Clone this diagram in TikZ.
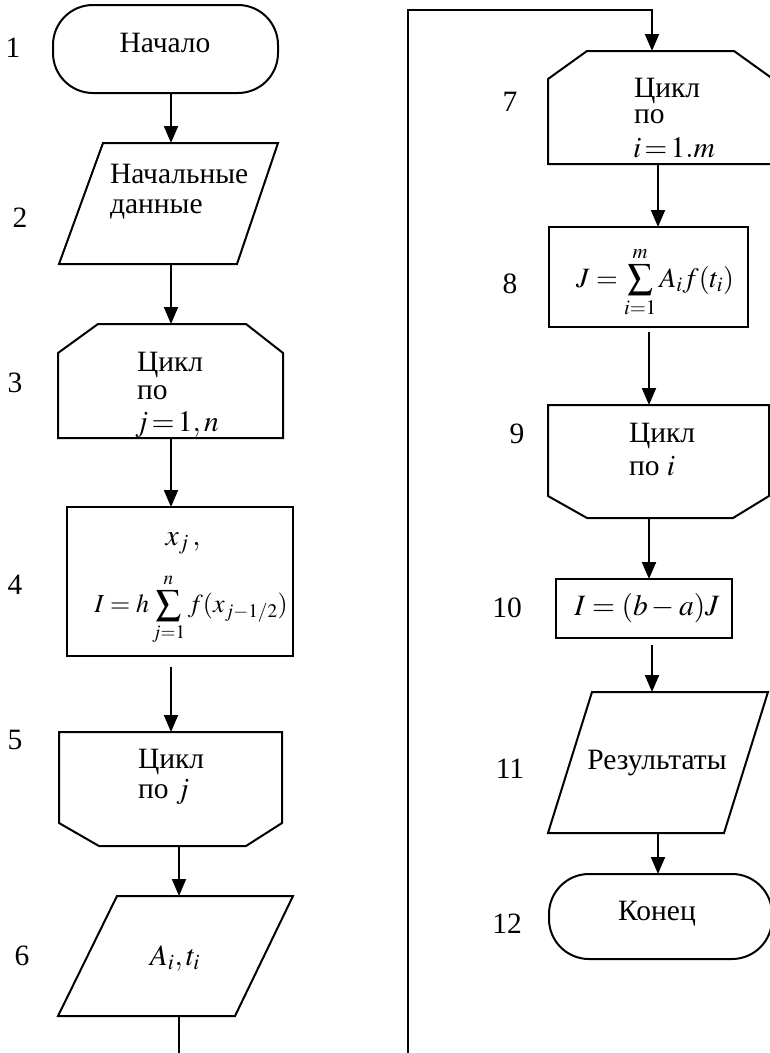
\documentclass[tikz,border=0pt]{standalone}
\usepackage{mathptmx}
\usepackage{fontspec}
\setmainfont{Liberation Serif}
\usetikzlibrary{arrows.meta}
\newcommand\bigfs{\fontsize{29.5}{32}\selectfont}
\newcommand\midsum[1]{\mathop{\vcenter{\hbox{\fontsize{#1}{#1}\selectfont$\displaystyle\sum$}}}\limits}
\begin{document}
\begin{tikzpicture}[x=1pt,y=-1pt,
  every node/.style={font=\bigfs, inner sep=0pt, outer sep=0pt},
  ol/.style={line width=2pt, line join=miter},
  boxd/.style={draw, line width=2pt},
  arr/.style={line width=2pt, -{Triangle[length=17pt,width=14pt]}},
  lbl/.style={anchor=base},
  txt/.style={anchor=base west},
  ctxt/.style={anchor=base}]
\useasboundingbox (0,0) rectangle (770,1053);
\clip (0,0) rectangle (770,1053);
\fill[white] (0,0) rectangle (770,1053);

% ---------- left column shapes ----------
\node[minimum width=225pt, minimum height=88pt] (n1) at (165.5,49) {};
\draw[ol, rounded corners=40pt] (n1.south west) rectangle (n1.north east);

\node[minimum width=219pt, minimum height=121pt] (n2) at (168.5,203.5) {};
\draw[ol] ([xshift=44pt]n2.north west) -- (n2.north east) -- ([xshift=-41pt]n2.south east) -- (n2.south west) -- cycle;

\node[minimum width=225pt, minimum height=114pt] (n3) at (170.5,381) {};
\draw[ol] ([xshift=40pt]n3.north west) -- ([xshift=-37pt]n3.north east) -- ([yshift=-29pt]n3.north east) -- (n3.south east) -- (n3.south west) -- ([yshift=-29pt]n3.north west) -- cycle;

\node[boxd, minimum width=226pt, minimum height=149pt] (n4) at (180,581.5) {};

\node[minimum width=223pt, minimum height=114pt] (n5) at (170.5,789) {};
\draw[ol] (n5.north west) -- (n5.north east) -- ([yshift=23pt]n5.south east) -- ([xshift=-36pt]n5.south east) -- ([xshift=40pt]n5.south west) -- ([yshift=23pt]n5.south west) -- cycle;

\node[minimum width=235pt, minimum height=120pt] (n6) at (175.5,956) {};
\draw[ol] ([xshift=59pt]n6.north west) -- (n6.north east) -- ([xshift=-58pt]n6.south east) -- (n6.south west) -- cycle;

% ---------- right column shapes ----------
\node[minimum width=225pt, minimum height=113pt] (n7) at (660.5,107.5) {};
\draw[ol] ([xshift=39pt]n7.north west) -- ([xshift=-39pt]n7.north east) -- ([yshift=-28pt]n7.north east) -- (n7.south east) -- (n7.south west) -- ([yshift=-28pt]n7.north west) -- cycle;

\node[boxd, minimum width=199pt, minimum height=100pt] (n8) at (648.5,277) {};

\node[minimum width=221pt, minimum height=113pt] (n9) at (658.5,461.5) {};
\draw[ol] (n9.north west) -- (n9.north east) -- ([yshift=22pt]n9.south east) -- ([xshift=-36pt]n9.south east) -- ([xshift=39pt]n9.south west) -- ([yshift=22pt]n9.south west) -- cycle;

\node[boxd, minimum width=176pt, minimum height=59pt] (n10) at (644,608.5) {};

\node[minimum width=220pt, minimum height=141pt] (n11) at (658,762.5) {};
\draw[ol] ([xshift=44pt]n11.north west) -- (n11.north east) -- ([xshift=-44pt]n11.south east) -- (n11.south west) -- cycle;

\node[minimum width=223pt, minimum height=85pt] (n12) at (660.5,916.5) {};
\draw[ol, rounded corners=40pt] (n12.south west) rectangle (n12.north east);

% ---------- texts ----------
\node[ctxt] (t1) at (165,52) {Начало};
\node[txt] (t2a) at (110,183) {Начальные};
\node[txt] (t2b) at (110,213) {данные};
\node[txt] (t3a) at (137,371) {Цикл};
\node[txt] (t3b) at (137,399) {по};
\node[txt] (t3c) at (135,431) {$j\mkern2mu{=}\mkern2mu1,n$};
\node[ctxt] (t4a) at (183,545) {$x_{j}\,,$};
\node[ctxt, font=\fontsize{26}{28}\selectfont] (t4b) at (191,612) {$I = h\midsum{25}_{j=1}^{n} f(x_{j-1/2})$};
\node[txt] (t5a) at (138,768) {Цикл};
\node[txt] (t5b) at (138,798) {по $j$};
\node[ctxt] (t6) at (175,965) {$A_i,t_i$};
\node[txt] (t7a) at (634,97) {Цикл};
\node[txt] (t7b) at (634,123) {по};
\node[txt] (t7c) at (633,157) {$i\mkern2mu{=}\mkern2mu1.m$};
\node[ctxt, font=\fontsize{28}{30}\selectfont] (t8) at (655,287) {$J = \midsum{25}_{i=1}^{m} A_i f(t_i)$};
\node[txt] (t9a) at (629,442) {Цикл};
\node[txt] (t9b) at (629,475) {по $i$};
\node[ctxt] (t10) at (647,615) {$I=(b-a)J$};
\node[ctxt] (t11) at (657,769) {Результаты};
\node[ctxt] (t12) at (657,920) {Конец};

% ---------- numbers ----------
\node[lbl] (l1) at (13,57) {1};
\node[lbl] (l2) at (20,227) {2};
\node[lbl] (l3) at (15,392) {3};
\node[lbl] (l4) at (15,594) {4};
\node[lbl] (l5) at (15,749) {5};
\node[lbl] (l6) at (22,965) {6};
\node[lbl] (l7) at (510,111) {7};
\node[lbl] (l8) at (510,293) {8};
\node[lbl] (l9) at (517,443) {9};
\node[lbl] (l10) at (507,617) {10};
\node[lbl] (l11) at (510,778) {11};
\node[lbl] (l12) at (507,933) {12};

% ---------- connectors ----------
\coordinate (xa) at (171,0);
\coordinate (xb) at (179,0);
\coordinate (xc) at (658,0);
\coordinate (xd) at (649,0);
\coordinate (xe) at (652,0);
\coordinate (lbot) at (408,1080);
\coordinate (ltop) at (408,10);

\draw[arr] (n1.south -| xa) -- (n2.north -| xa);
\draw[arr] (n2.south -| xa) -- (n3.north -| xa);
\draw[arr] (n3.south -| xa) -- (n4.north -| xa);
\draw[arr, shorten <=11pt] (n4.south -| xa) -- (n5.north -| xa);
\draw[arr] (n5.south -| xb) -- (n6.north -| xb);
\draw[arr] (n6.south -| xb) |- (lbot) -- (ltop) -| (n7.north -| xe);
\draw[arr] (n7.south -| xc) -- (n8.north -| xc);
\draw[arr, shorten <=5pt] (n8.south -| xd) -- (n9.north -| xd);
\draw[arr] (n9.south -| xd) -- (n10.north -| xd);
\draw[arr, shorten <=7pt] (n10.south -| xe) -- (n11.north -| xe);
\draw[arr] (n11.south -| xc) -- (n12.north -| xc);
\end{tikzpicture}
\end{document}
